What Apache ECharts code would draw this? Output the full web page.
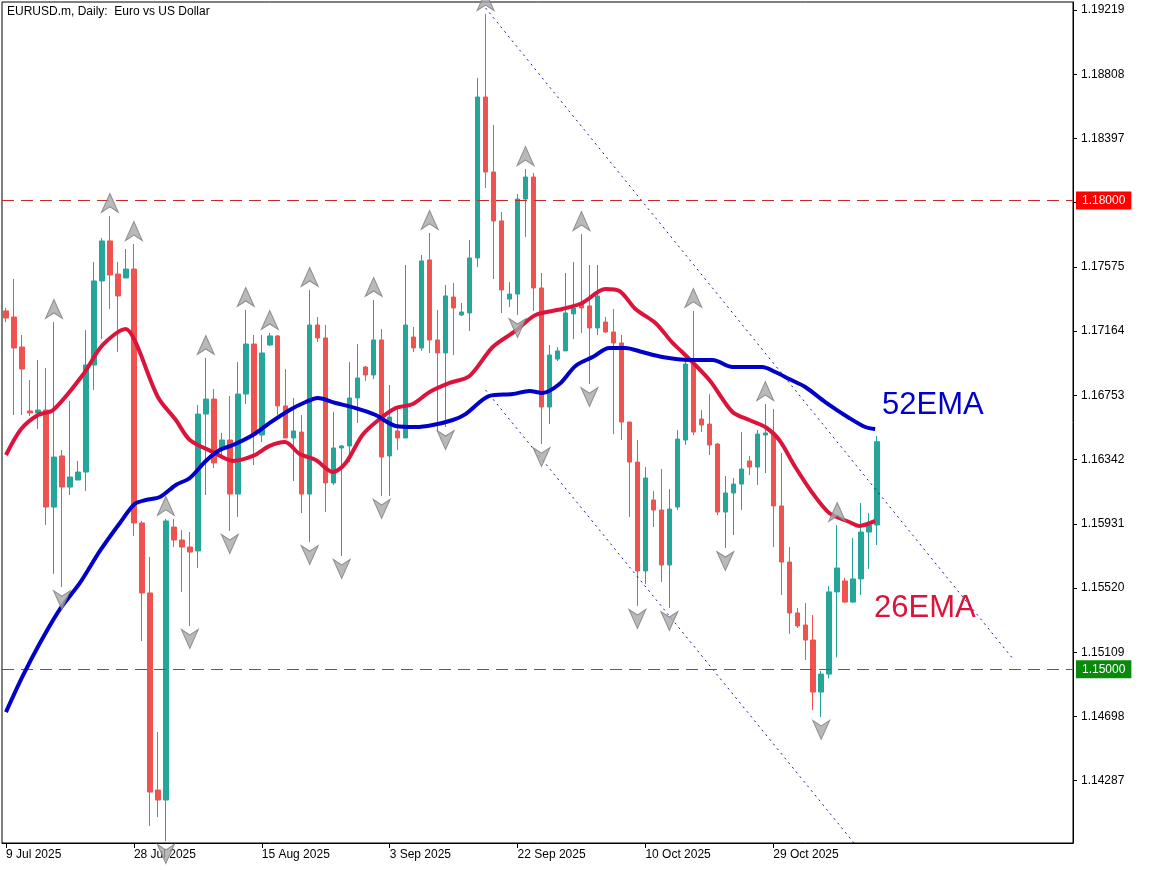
<!DOCTYPE html>
<html><head><meta charset="utf-8">
<script src="https://cdn.jsdelivr.net/npm/echarts@6/dist/echarts.min.js"></script>
<style>html,body{margin:0;padding:0;background:#fff}#c{width:1152px;height:870px}</style>
</head><body><div id="c"></div>
<script>
const NBARS = 134;
const tickLabels = ['9 Jul 2025','28 Jul 2025','15 Aug 2025','3 Sep 2025','22 Sep 2025','10 Oct 2025','29 Oct 2025'];
const tickEvery = 16;
const yTicks = [1.14287,1.14698,1.15109,1.15520,1.15931,1.16342,1.16753,1.17164,1.17575,1.17986,1.18397,1.18808,1.19219];
// [open, close, low, high]
const candles = [
[1.17293,1.17248,1.17222,1.17312],[1.17254,1.17056,1.16627,1.17497],[1.17062,1.16921,1.16627,1.17139],[1.16653,1.16640,1.16621,1.16851],
[1.16640,1.16659,1.16537,1.16979],[1.16659,1.16038,1.15923,1.16928],[1.16038,1.16358,1.15610,1.17222],[1.16365,1.16166,1.15526,1.16403],
[1.16166,1.16230,1.16115,1.16717],[1.16211,1.16262,1.16211,1.16333],[1.16262,1.16947,1.16141,1.17171],[1.16947,1.17485,1.16787,1.17606],
[1.17485,1.17741,1.17113,1.17760],[1.17741,1.17523,1.17305,1.17901],[1.17529,1.17389,1.17030,1.17606],[1.17504,1.17561,1.17504,1.17689],
[1.17561,1.15936,1.15853,1.17721],[1.15936,1.15488,1.15181,1.15949],[1.15488,1.14214,1.13997,1.15718],[1.14227,1.14163,1.14054,1.14598],
[1.14163,1.15949,1.13901,1.15962],[1.15910,1.15827,1.15782,1.15962],[1.15827,1.15782,1.15495,1.15891],[1.15782,1.15750,1.15277,1.15878],
[1.15757,1.16633,1.15648,1.16691],[1.16633,1.16729,1.16115,1.16992],[1.16729,1.16320,1.16288,1.16793],[1.16416,1.16467,1.16371,1.16512],
[1.16467,1.16121,1.15885,1.16749],[1.16121,1.16761,1.15974,1.16966],[1.16761,1.17081,1.16697,1.17299],[1.17081,1.16499,1.16307,1.17139],
[1.16499,1.17024,1.16454,1.17139],[1.17075,1.17133,1.17069,1.17152],[1.17133,1.16685,1.16627,1.17139],[1.16685,1.16480,1.16480,1.16921],
[1.16480,1.16525,1.16205,1.16736],[1.16518,1.16121,1.16000,1.16627],[1.16121,1.17203,1.15814,1.17427],[1.17203,1.17120,1.17094,1.17254],
[1.17120,1.16192,1.16006,1.17203],[1.16192,1.16416,1.16179,1.16647],[1.16416,1.16429,1.15725,1.16435],[1.16429,1.16736,1.16326,1.16966],
[1.16736,1.16864,1.16576,1.17081],[1.16934,1.16883,1.16845,1.16941],[1.16883,1.17107,1.16857,1.17363],[1.17107,1.16358,1.16109,1.17177],
[1.16365,1.16614,1.16109,1.16819],[1.16525,1.16480,1.16403,1.16685],[1.16480,1.17203,1.16480,1.17587],[1.17126,1.17056,1.17030,1.17190],
[1.17056,1.17613,1.17037,1.17651],[1.17619,1.17107,1.17024,1.17792],[1.17107,1.17024,1.16525,1.17299],[1.17024,1.17389,1.16550,1.17459],
[1.17382,1.17312,1.17011,1.17472],[1.17267,1.17286,1.17261,1.17344],[1.17280,1.17632,1.17165,1.17747],[1.17632,1.18662,1.17574,1.18784],
[1.18662,1.18182,1.18080,1.19193],[1.18182,1.17869,1.17497,1.18483],[1.17869,1.17427,1.17280,1.17926],[1.17369,1.17401,1.17318,1.17478],
[1.17401,1.18009,1.17267,1.18041],[1.18009,1.18150,1.17766,1.18201],[1.18150,1.17440,1.17293,1.18176],[1.17440,1.16678,1.16441,1.17536],
[1.16678,1.17011,1.16569,1.17075],[1.16985,1.17037,1.16973,1.17062],[1.17037,1.17280,1.17037,1.17536],[1.17274,1.17312,1.17113,1.17606],
[1.17338,1.17312,1.17152,1.17785],[1.17325,1.17184,1.16825,1.17587],[1.17184,1.17389,1.17139,1.17587],[1.17222,1.17158,1.17152,1.17254],
[1.17158,1.17088,1.16505,1.17305],[1.17088,1.16582,1.16467,1.17139],[1.16582,1.16326,1.15974,1.16582],[1.16326,1.15629,1.15405,1.16467],
[1.15629,1.16224,1.15545,1.16294],[1.16083,1.16019,1.15910,1.16141],[1.16019,1.15667,1.15558,1.16282],[1.15667,1.16025,1.15392,1.16153],
[1.16038,1.16473,1.16019,1.16531],[1.16467,1.16953,1.16435,1.16979],[1.16953,1.16518,1.16499,1.17293],[1.16601,1.16563,1.16518,1.16659],
[1.16569,1.16435,1.16371,1.16761],[1.16441,1.16006,1.15987,1.16448],[1.16006,1.16128,1.15776,1.16237],[1.16128,1.16185,1.15859,1.16224],
[1.16185,1.16281,1.16019,1.16518],[1.16333,1.16294,1.16243,1.16365],[1.16294,1.16505,1.16179,1.16531],[1.16499,1.16512,1.16256,1.16697],
[1.16512,1.16045,1.15782,1.16665],[1.16045,1.15686,1.15475,1.16384],[1.15686,1.15360,1.15227,1.15782],[1.15360,1.15277,1.15264,1.15392],
[1.15283,1.15187,1.15059,1.15424],[1.15187,1.14854,1.14739,1.15347],[1.14854,1.14969,1.14695,1.14989],[1.14969,1.15495,1.14941,1.15533],
[1.15495,1.15648,1.15075,1.15923],[1.15565,1.15430,1.15424,1.15584],[1.15430,1.15578,1.15424,1.15840],[1.15578,1.15878,1.15475,1.16064],
[1.15878,1.15923,1.15642,1.16000],[1.15923,1.16456,1.15795,1.16493]
];
const ema26 = [[0,1.16371],[1.9,1.16537],[4,1.16627],[5.9,1.16659],[9.6,1.16883],[12.1,1.17075],[15,1.17177],[16.25,1.17088],[19,1.16742],[21.25,1.16595],[23,1.16467],[25.9,1.16390],[28.4,1.16333],[30.9,1.16365],[33,1.16429],[34.9,1.16454],[36.75,1.16377],[38.75,1.16339],[40.9,1.16262],[42.5,1.16320],[44.6,1.16499],[46.75,1.16601],[48.75,1.16671],[50.9,1.16697],[53,1.16774],[55.5,1.16832],[58,1.16877],[60.9,1.17062],[63.75,1.17165],[66.25,1.17267],[69.6,1.17305],[72.1,1.17344],[75,1.17433],[76.75,1.17421],[78.75,1.17305],[81.25,1.17216],[83.4,1.17088],[84.6,1.17030],[88,1.16851],[90.9,1.16646],[93,1.16595],[95,1.16550],[96.75,1.16467],[98.75,1.16294],[100.9,1.16128],[103,1.16000],[105.5,1.15942],[106.75,1.15917],[108.75,1.15949]];
const ema52 = [[0,1.14726],[2.1,1.14957],[4.25,1.15168],[6.75,1.15385],[9.25,1.15552],[11.75,1.15757],[14.25,1.15936],[16.1,1.16057],[17.5,1.16083],[19.25,1.16102],[21.25,1.16179],[23,1.16224],[25,1.16333],[26.75,1.16403],[28.4,1.16435],[30.9,1.16499],[33,1.16576],[35.5,1.16659],[37.5,1.16710],[39,1.16736],[41.25,1.16704],[43.75,1.16671],[46.25,1.16627],[48.75,1.16557],[51.25,1.16550],[53.4,1.16563],[55.9,1.16595],[57.5,1.16633],[60.5,1.16749],[63.4,1.16761],[65.5,1.16781],[67.1,1.16768],[69.25,1.16825],[71.25,1.16941],[73.4,1.16998],[75.5,1.17056],[77.5,1.17056],[79.6,1.17030],[82.1,1.16998],[85.5,1.16979],[88.4,1.16979],[90.9,1.16934],[94.6,1.16934],[96.25,1.16902],[98,1.16857],[100,1.16806],[102.5,1.16710],[105.5,1.16608],[107.5,1.16550],[108.75,1.16537]];
const channelUpper = [[60,1.19232],[125.9,1.15072]];
const channelLower = [[60,1.16787],[106.1,1.13888]];
const fractalUp = [6,13,16,20,25,30,33,38,46,53,60,65,72,86,95,104];
const fractalDown = [7,20,23,28,38,42,47,55,64,67,73,79,83,90,102];
const resistance = 1.18000, support = 1.15000, lastPrice = 1.16456;

const cats = [];
for (let i = 0; i < NBARS; i++) cats.push(i % tickEvery === 0 && tickLabels[i / tickEvery] ? tickLabels[i / tickEvery] : '');

const upArrow = 'path://M10,0 L20,24 L10,17 L0,24 Z';
const chart = echarts.init(document.getElementById('c'));
const font = 'Liberation Sans, Arial, sans-serif';
chart.setOption({
  animation: false,
  grid: {left: 2, top: 2, width: 1071, height: 841, show: true, borderColor: '#000', borderWidth: 1},
  xAxis: [
    {type: 'category', data: cats, boundaryGap: true,
     axisLine: {lineStyle: {color: '#000'}},
     axisTick: {show: true, alignWithLabel: true, length: 5, lineStyle: {color: '#000'}, interval: (i) => cats[i] !== ''},
     axisLabel: {interval: 0, align: 'left', color: '#000', fontSize: 12, fontFamily: font, margin: 6},
     splitLine: {show: false}},
    {type: 'value', min: -0.5, max: NBARS - 0.5, show: false}
  ],
  yAxis: {type: 'value', position: 'right', min: 1.13888, max: 1.19270, scale: true,
    axisLine: {show: true, onZero: false, lineStyle: {color: '#000'}},
    axisTick: {show: true, length: 4, customValues: yTicks, lineStyle: {color: '#000'}},
    axisLabel: {customValues: yTicks, formatter: v => v.toFixed(5), color: '#000', fontSize: 12, fontFamily: font, margin: 8},
    splitLine: {show: false}},
  series: [
    {type: 'candlestick', data: candles, barWidth: 5,
     itemStyle: {color: '#26a69a', color0: '#ef5350', borderColor: '#26a69a', borderColor0: '#ef5350', borderWidth: 1},
     markLine: {silent: true, symbol: 'none', animation: false,
       data: [
         {yAxis: resistance, lineStyle: {color: '#c82828', type: [12, 7], width: 1},
          label: {position: 'end', formatter: resistance.toFixed(5), backgroundColor: '#ff0000', color: '#fff', padding: [3, 6], fontSize: 12, fontFamily: font, distance: 3}},
         {yAxis: support, lineStyle: {color: '#1a8a1a', type: [12, 7], width: 1},
          label: {position: 'end', formatter: support.toFixed(5), backgroundColor: '#0a8a0a', color: '#fff', padding: [3, 6], fontSize: 12, fontFamily: font, distance: 3}},
         {yAxis: lastPrice, lineStyle: {width: 0, opacity: 0},
          label: {position: 'end', formatter: lastPrice.toFixed(5), backgroundColor: '#000', color: '#fff', padding: [3, 6], fontSize: 12, fontFamily: font, distance: 3}}
       ]}},
    {type: 'line', xAxisIndex: 1, data: ema26, smooth: 0.3, showSymbol: false, lineStyle: {color: '#dc143c', width: 4}, z: 5},
    {type: 'line', xAxisIndex: 1, data: ema52, smooth: 0.3, showSymbol: false, lineStyle: {color: '#0000c8', width: 4}, z: 5},
    {type: 'line', xAxisIndex: 1, data: channelUpper, showSymbol: false, lineStyle: {color: '#1a1a9a', width: 1, type: [2, 4]}},
    {type: 'line', xAxisIndex: 1, data: channelLower, showSymbol: false, lineStyle: {color: '#1a1a9a', width: 1, type: [2, 4]}},
    {type: 'scatter', data: fractalUp.map(i => [i, candles[i][3]]), symbol: upArrow, symbolSize: [17, 19], symbolOffset: [0, -13],
     itemStyle: {color: '#a8a8a8', borderColor: '#7a7a7a', borderWidth: 1}, z: 6},
    {type: 'scatter', data: fractalDown.map(i => [i, candles[i][2]]), symbol: upArrow, symbolRotate: 180, symbolSize: [17, 19], symbolOffset: [0, 13],
     itemStyle: {color: '#a8a8a8', borderColor: '#7a7a7a', borderWidth: 1}, z: 6}
  ],
  graphic: [
    {type: 'text', left: 7, top: 6, style: {text: 'EURUSD.m, Daily:  Euro vs US Dollar', fill: '#000', font: '12px ' + font}},
    {type: 'text', left: 882, top: 390, style: {text: '52EMA', fill: '#0000c8', font: '31px ' + font}},
    {type: 'text', left: 874, top: 593, style: {text: '26EMA', fill: '#dc143c', font: '31px ' + font}}
  ]
});
</script></body></html>
